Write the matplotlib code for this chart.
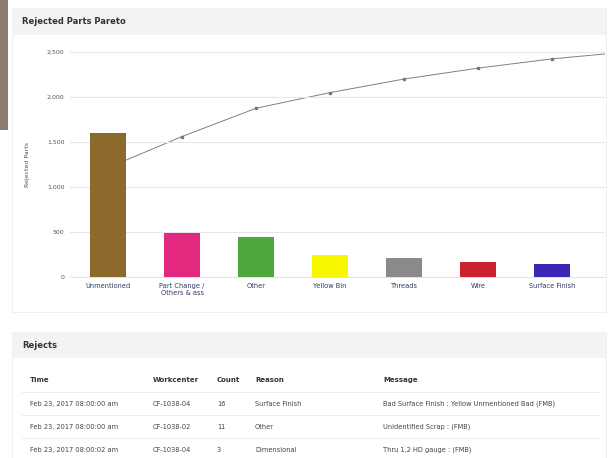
import matplotlib
matplotlib.use("Agg")
import matplotlib.pyplot as plt
from matplotlib.patches import Rectangle
import numpy as np

plt.rcParams['font.family'] = ['DejaVu Sans']

W, H = 612, 458

# Pareto data
categories = ["Unmentioned", "Part Change /\nOthers & ass", "Other", "Yellow Bin",
              "Threads", "Wire", "Surface Finish", "Dimensional"]
counts = [1600, 485, 440, 244, 211, 170, 144, 107]
bar_colors = ["#8c6a2c", "#e3297f", "#4ca83c", "#f7f700", "#8a8a8a",
              "#cc2230", "#3a27b5", "#2f8fd0"]
yticks = [0, 500, 1000, 1500, 2000, 2500]

# Rejects table
table_cols = ["Time", "Workcenter", "Count", "Reason", "Message"]
table_rows = [
    ["Feb 23, 2017 08:00:00 am", "CF-1038-04", "16", "Surface Finish",
     "Bad Surface Finish : Yellow Unmentioned Bad (FMB)"],
    ["Feb 23, 2017 08:00:00 am", "CF-1038-02", "11", "Other",
     "Unidentified Scrap : (FMB)"],
    ["Feb 23, 2017 08:00:02 am", "CF-1038-04", "3", "Dimensional",
     "Thru 1.2 HD gauge : (FMB)"],
]


def fx(px):
    return px / W


def fy(py):
    return 1 - py / H


fig = plt.figure(figsize=(W / 100, H / 100), dpi=100)
fig.patch.set_facecolor("white")


def rect(x0, y0, x1, y1, fc, ec="none", lw=0.6, z=0):
    fig.patches.append(Rectangle((fx(x0), fy(y1)), fx(x1) - fx(x0), fy(y0) - fy(y1),
                                 transform=fig.transFigure, facecolor=fc,
                                 edgecolor=ec, linewidth=lw, zorder=z))


# side strip and panels
rect(0, 0, 8, 130, "#8d7e70")
rect(12, 8, 606, 312, "white", ec="#ececec")
rect(12, 8, 606, 35, "#f3f3f3")
rect(12, 332, 606, 470, "white", ec="#ececec")
rect(12, 332, 606, 358, "#f3f3f3")

fig.text(fx(22), fy(22), "Rejected Parts Pareto", fontsize=6, fontweight="bold",
         color="#333333", va="center", ha="left")
fig.text(fx(22), fy(346), "Rejects", fontsize=6, fontweight="bold",
         color="#333333", va="center", ha="left")

# chart axes
ax = fig.add_axes([fx(70), fy(277), fx(605) - fx(70), fy(52) - fy(277)])
x = np.arange(len(categories))
ax.bar(x, counts, width=0.49, color=bar_colors, zorder=3)
ax.set_ylim(0, 2500)
ax.set_yticks(yticks)
ax.set_yticklabels([f"{v:,}" for v in yticks], fontsize=4.5, color="#555555")
ax.set_xticks(x)
ax.set_xticklabels(categories, fontsize=4.8, color="#2d3a6a", linespacing=1.2)
ax.tick_params(axis="both", length=0, pad=4)
ax.grid(axis="y", color="#e6e6e6", linewidth=0.8, zorder=0)
for s in ax.spines.values():
    s.set_visible(False)
ax.spines["bottom"].set_visible(True)
ax.spines["bottom"].set_color("#dddddd")
ax.spines["bottom"].set_linewidth(0.6)
ax.set_ylabel("Rejected Parts", fontsize=4.5, color="#555555", labelpad=12)

# cumulative percentage line
cum_pct = np.cumsum(counts) / np.sum(counts) * 100
ax2 = ax.twinx()
ax2.plot(x, cum_pct, color="#808080", linewidth=0.7, marker="s", markersize=2.0,
         markerfacecolor="#777777", markeredgecolor="#777777", zorder=1)
ax2.set_ylim(-3, 100)
ax2.set_yticks([])
for s in ax2.spines.values():
    s.set_visible(False)
ax.set_zorder(2)
ax2.set_zorder(1)
ax.patch.set_visible(False)
ax.set_xlim(-0.514, 6.716)

# table
col_x = [30, 153, 217, 255, 383]
fig_rows_y = [380, 404, 427, 450]
for cx, name in zip(col_x, table_cols):
    fig.text(fx(cx), fy(fig_rows_y[0]), name, fontsize=5, fontweight="bold",
             color="#333333", va="center", ha="left")
for ry, row in zip(fig_rows_y[1:], table_rows):
    for cx, val in zip(col_x, row):
        fig.text(fx(cx), fy(ry), val, fontsize=4.8, color="#444444",
                 va="center", ha="left")
for ly in [392, 415, 438]:
    rect(22, ly, 600, ly + 0.8, "#ececec")

fig.savefig("out.png", dpi=100, facecolor="white")
